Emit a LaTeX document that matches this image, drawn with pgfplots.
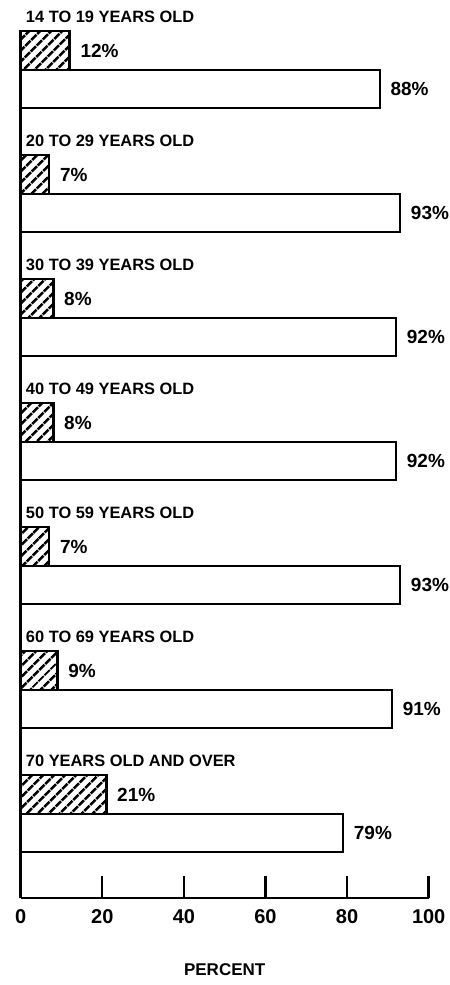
\documentclass[border=0pt]{standalone}
\usepackage{pgfplots}
\pgfplotsset{compat=1.18}
\usepackage{fontspec}
\setmainfont{Liberation Sans}
\usetikzlibrary{patterns.meta}
\pgfplotstableread{
y x
-51 12
-175 7
-299 8
-423 8
-547 7
-671 9
-795 21
}\hatched
\pgfplotstableread{
y x
-89 88
-213 93
-337 92
-461 92
-585 93
-709 91
-833 79
}\plain
\begin{document}
\begin{tikzpicture}
\begin{axis}[
  x=2.04pt, y=0.5pt,
  xmin=0, xmax=100, ymin=-898, ymax=-30,
  axis x line=bottom, axis y line=left,
  axis line style={-, line width=1.3pt},
  xtick={0,20,40,60,80,100}, ytick=\empty,
  tick align=inside, major tick length=11pt,
  tick style={line width=1.2pt, black},
  xticklabel style={font=\fontsize{10}{11}\selectfont\bfseries, yshift=-2pt},
  /pgf/number format/assume math mode=true,
  xlabel={PERCENT},
  every axis x label/.style={at={(axis description cs:0.5,0)}, anchor=center, yshift=-36pt, font=\fontsize{8.5}{10}\selectfont\bfseries},
  clip=false,
  nodes near coords={\pgfmathprintnumber{\pgfplotspointmeta}\%},
  point meta=x,
  every node near coord/.append style={font=\fontsize{9.5}{11}\selectfont\bfseries, xshift=1.5pt},
]
\addplot[xbar, bar shift=0pt, bar width=20pt, draw=black, line width=1.2pt,
  pattern={Lines[angle=45, distance=4pt, line width=1.4pt]}] table[x=x, y=y] {\hatched};
\addplot[xbar, bar shift=0pt, bar width=19pt, draw=black, line width=1.2pt, fill=white] table[x=x, y=y] {\plain};
\foreach \lab/\yy in {{14 TO 19 YEARS OLD}/-17, {20 TO 29 YEARS OLD}/-141, {30 TO 39 YEARS OLD}/-265, {40 TO 49 YEARS OLD}/-389, {50 TO 59 YEARS OLD}/-513, {60 TO 69 YEARS OLD}/-637, {70 YEARS OLD AND OVER}/-761} {
  \edef\temp{\noexpand\node[anchor=west, inner sep=0pt, font=\noexpand\fontsize{8.2}{9}\noexpand\selectfont\noexpand\bfseries] at (axis cs:1.2,\yy) {\lab};}
  \temp
}
\coordinate (bl) at (axis cs:-5.07,-985);
\coordinate (tr) at (axis cs:105.2,0);
\end{axis}
\pgfresetboundingbox
\path (bl) rectangle (tr);
\end{tikzpicture}
\end{document}
